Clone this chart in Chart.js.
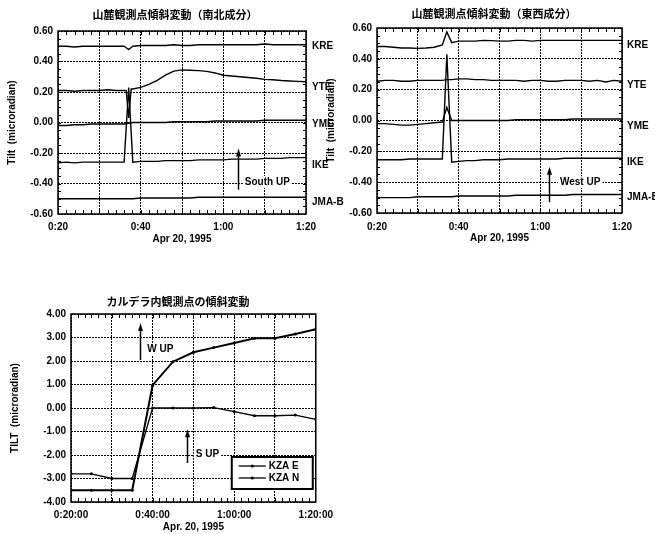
<!DOCTYPE html>
<html>
<head>
<meta charset="utf-8">
<script src="https://cdn.jsdelivr.net/npm/chart.js@4.4.1/dist/chart.umd.min.js"></script>
<style>
  body { margin: 0; background: #fff; width: 655px; height: 534px; position: relative; overflow: hidden; }
  canvas { position: absolute; }
  #ns { left: 0; top: 0; }
  #ew { left: 325px; top: 0; }
  #kza { left: 0; top: 285px; }
</style>
</head>
<body>
<canvas id="ns" width="350" height="250"></canvas>
<canvas id="ew" width="330" height="250"></canvas>
<canvas id="kza" width="340" height="249"></canvas>
<script>
// --- data (time in minutes after 0:00, tilt in microradian) ---
var stations = ['KRE', 'YTE', 'YME', 'IKE', 'JMA-B'];

// north-south component
var tNS = [20, 22, 24, 26, 28, 30, 32, 34, 36, 36.5, 37.1, 37.7, 38.1, 40, 42, 44, 46, 48, 50, 52, 54, 56, 58, 60, 62, 64, 66, 68, 70, 72, 74, 76, 78, 80];
var kreNS = [0.50, 0.50, 0.495, 0.50, 0.50, 0.50, 0.50, 0.50, 0.50, 0.49, 0.478, 0.492, 0.50, 0.505, 0.505, 0.505, 0.505, 0.51, 0.505, 0.505, 0.51, 0.51, 0.51, 0.51, 0.51, 0.51, 0.51, 0.51, 0.515, 0.51, 0.51, 0.51, 0.51, 0.51];
var yteNS = [0.21, 0.21, 0.205, 0.21, 0.21, 0.21, 0.215, 0.21, 0.21, 0.21, 0.03, 0.22, 0.22, 0.23, 0.25, 0.276, 0.31, 0.337, 0.345, 0.343, 0.34, 0.335, 0.325, 0.31, 0.305, 0.30, 0.295, 0.29, 0.283, 0.28, 0.275, 0.272, 0.27, 0.267];
var ymeNS = [-0.02, -0.02, -0.015, -0.015, -0.01, -0.01, -0.01, -0.01, -0.01, null, null, null, 0.0, 0.0, 0.0, 0.0, 0.0, 0.005, 0.005, 0.005, 0.005, 0.005, 0.01, 0.01, 0.01, 0.01, 0.01, 0.01, 0.015, 0.015, 0.015, 0.015, 0.015, 0.015];
var ikeNS = [-0.265, -0.26, -0.265, -0.26, -0.26, -0.26, -0.26, -0.26, -0.26, null, 0.23, null, -0.26, -0.255, -0.255, -0.255, -0.25, -0.25, -0.25, -0.25, -0.245, -0.245, -0.245, -0.245, -0.24, -0.24, -0.24, -0.24, -0.235, -0.235, -0.235, -0.23, -0.23, -0.23];
var jmaNS = [-0.50, -0.50, -0.50, -0.50, -0.50, -0.50, -0.50, -0.50, -0.50, null, null, null, -0.50, -0.495, -0.495, -0.495, -0.495, -0.495, -0.495, -0.495, -0.49, -0.49, -0.49, -0.49, -0.49, -0.49, -0.49, -0.49, -0.49, -0.49, -0.49, -0.49, -0.49, -0.49];
var labelNS = [0.50, 0.23, -0.01, -0.28, -0.52];

// east-west component
var tEW = [20, 22, 24, 26, 28, 30, 32, 34, 36, 37.1, 38.3, 40, 42, 44, 46, 48, 50, 52, 54, 56, 58, 60, 62, 64, 66, 68, 70, 72, 74, 76, 78, 80];
var kreEW = [0.48, 0.48, 0.475, 0.47, 0.47, 0.468, 0.47, 0.475, 0.49, 0.575, 0.505, 0.515, 0.515, 0.515, 0.52, 0.518, 0.515, 0.515, 0.52, 0.52, 0.515, 0.52, 0.52, 0.52, 0.52, 0.52, 0.52, 0.52, 0.52, 0.52, 0.52, 0.52];
var yteEW = [0.255, 0.26, 0.26, 0.255, 0.255, 0.26, 0.26, 0.26, 0.26, 0.265, 0.265, 0.27, 0.27, 0.265, 0.265, 0.26, 0.26, 0.26, 0.26, 0.255, 0.26, 0.26, 0.255, 0.255, 0.26, 0.26, 0.26, 0.255, 0.26, 0.25, 0.26, 0.255];
var ymeEW = [-0.02, -0.02, -0.025, -0.03, -0.03, -0.025, -0.02, -0.015, -0.01, 0.085, 0.0, 0.0, 0.0, 0.0, 0.0, 0.0, 0.0, 0.0, 0.005, 0.005, 0.005, 0.005, 0.005, 0.005, 0.005, 0.01, 0.01, 0.01, 0.01, 0.01, 0.01, 0.01];
var ikeEW = [-0.255, -0.255, -0.255, -0.255, -0.25, -0.25, -0.25, -0.25, -0.25, 0.43, -0.27, -0.265, -0.26, -0.26, -0.255, -0.255, -0.255, -0.25, -0.25, -0.25, -0.25, -0.25, -0.25, -0.25, -0.245, -0.245, -0.245, -0.245, -0.245, -0.245, -0.245, -0.245];
var jmaEW = [-0.50, -0.50, -0.50, -0.50, -0.50, -0.495, -0.495, -0.495, -0.495, null, -0.495, -0.49, -0.49, -0.49, -0.49, -0.49, -0.49, -0.49, -0.485, -0.485, -0.485, -0.485, -0.485, -0.485, -0.485, -0.48, -0.48, -0.48, -0.48, -0.48, -0.48, -0.48];
var labelEW = [0.485, 0.23, -0.04, -0.27, -0.50];

// caldera station KZA
var tKZA = [20, 25, 30, 35, 40, 45, 50, 55, 60, 65, 70, 75, 80];
var kzaE = [-3.5, -3.5, -3.5, -3.5, 0.97, 1.97, 2.37, 2.57, 2.77, 2.97, 2.97, 3.15, 3.35];
var kzaN = [-2.8, -2.8, -3.0, -3.0, 0.0, 0.0, 0.0, 0.02, -0.15, -0.33, -0.33, -0.30, -0.48];

// arrows with notes: arrow at x from y0 up to y1, note starting at (tx, ty)
var notesNS = [{ x: 63.5, y0: -0.44, y1: -0.17, text: 'South UP', tx: 65.2, ty: -0.39 }];
var notesEW = [{ x: 62.1, y0: -0.53, y1: -0.30, text: 'West UP', tx: 64.8, ty: -0.40 }];
var notesKZA = [
  { x: 36.8, y0: 2.04, y1: 3.62, text: 'W UP', tx: 38.7, ty: 2.5 },
  { x: 48.4, y0: -2.34, y1: -0.9, text: 'S UP', tx: 50.6, ty: -1.96 }
];

var FONT = '"Liberation Sans", Arial, sans-serif';
Chart.defaults.font.family = FONT;
Chart.defaults.font.size = 10;
Chart.defaults.font.weight = 'bold';
Chart.defaults.color = '#000';
Chart.defaults.animation = false;
Chart.defaults.responsive = false;
Chart.defaults.plugins.legend.display = false;
Chart.defaults.plugins.tooltip.enabled = false;

function hm(v) { return Math.floor(v / 60) + ':' + String(v % 60).padStart(2, '0'); }

function pts(t, vals) { return t.map(function (x, i) { return { x: x, y: vals[i] }; }); }

// frame, inward minor ticks, title, station labels, arrows, legend
var deco = {
  id: 'deco',
  afterDatasetsDraw: function (chart, args, o) {
    var ctx = chart.ctx, a = chart.chartArea, x = chart.scales.x, y = chart.scales.y;
    ctx.save();
    ctx.strokeStyle = '#000';
    ctx.fillStyle = '#000';
    ctx.lineWidth = 1;
    ctx.beginPath();
    for (var v = x.min + o.xMinor; v < x.max - 1e-6; v += o.xMinor) {
      var px = Math.round(x.getPixelForValue(v)) + 0.5;
      ctx.moveTo(px, a.top); ctx.lineTo(px, a.top + 4);
      ctx.moveTo(px, a.bottom); ctx.lineTo(px, a.bottom - 4);
    }
    if (o.yMinor) {
      for (var w = y.min + o.yMinor; w < y.max - 1e-6; w += o.yMinor) {
        var py = Math.round(y.getPixelForValue(w)) + 0.5;
        ctx.moveTo(a.left, py); ctx.lineTo(a.left + 3, py);
        ctx.moveTo(a.right, py); ctx.lineTo(a.right - 3, py);
      }
    }
    ctx.stroke();
    ctx.lineWidth = 1.5;
    ctx.strokeRect(a.left, a.top, a.right - a.left, a.bottom - a.top);

    // chart title
    ctx.font = 'bold 11px "Noto Sans CJK JP"';
    ctx.textAlign = 'center';
    ctx.textBaseline = 'middle';
    ctx.fillText(o.title, o.titleX, o.titleY);

    ctx.font = 'bold 10px ' + FONT;
    ctx.textAlign = 'left';
    if (o.labels) {
      o.labels.forEach(function (v, i) {
        ctx.fillText(stations[i], a.right + o.labelGap, y.getPixelForValue(v));
      });
    }

    (o.notes || []).forEach(function (n) {
      var ax = Math.round(x.getPixelForValue(n.x)) + 0.5;
      var ay0 = y.getPixelForValue(n.y0), ay1 = y.getPixelForValue(n.y1);
      ctx.lineWidth = 1.5;
      ctx.beginPath(); ctx.moveTo(ax, ay0); ctx.lineTo(ax, ay1 + 6); ctx.stroke();
      ctx.beginPath(); ctx.moveTo(ax, ay1); ctx.lineTo(ax - 2.5, ay1 + 8); ctx.lineTo(ax + 2.5, ay1 + 8); ctx.closePath(); ctx.fill();
      var tx = x.getPixelForValue(n.tx), ty = y.getPixelForValue(n.ty);
      var tw = ctx.measureText(n.text).width;
      ctx.fillStyle = '#fff';
      ctx.fillRect(tx - 2, ty - 6, tw + 4, 12);
      ctx.fillStyle = '#000';
      ctx.fillText(n.text, tx, ty);
    });

    if (o.legend) {
      var bx = a.right - 84, by = a.bottom - 45, bw = 81, bh = 32;
      ctx.fillStyle = '#fff';
      ctx.fillRect(bx, by, bw, bh);
      ctx.fillStyle = '#000';
      ctx.lineWidth = 2;
      ctx.strokeRect(bx, by, bw, bh);
      chart.data.datasets.forEach(function (ds, i) {
        var ly = by + 9 + i * 12;
        ctx.lineWidth = 1.3;
        ctx.beginPath(); ctx.moveTo(bx + 7, ly); ctx.lineTo(bx + 34, ly); ctx.stroke();
        ctx.beginPath(); ctx.arc(bx + 20.5, ly, 1.6, 0, Math.PI * 2); ctx.fill();
        ctx.fillText(ds.label, bx + 37, ly);
      });
    }
    ctx.restore();
  }
};

function axes(o) {
  var grid = { color: '#000', lineWidth: 1, drawTicks: false };
  var border = { display: false, dash: [2, 1] };
  return {
    x: {
      type: 'linear', min: 20, max: 80,
      afterFit: function (s) { s.height = o.xh; },
      grid: grid, border: border,
      ticks: { stepSize: 10, autoSkip: false, maxRotation: 0, padding: o.xpad,
        callback: function (v) { return (v - 20) % 20 === 0 ? o.fmt(v) : ''; } },
      title: { display: true, text: o.xTitle, padding: { top: 0, bottom: o.xtb } }
    },
    y: {
      min: o.ymin, max: o.ymax,
      afterFit: function (s) { s.width = o.yw; },
      grid: grid, border: border,
      ticks: { stepSize: o.ystep, padding: 5,
        callback: function (v) { return (Math.abs(v) < 1e-9 ? 0 : v).toFixed(2); } },
      title: { display: true, text: o.yTitle, padding: { top: o.ytp, bottom: 0 } }
    }
  };
}

function stationSets(t, series) {
  return series.map(function (vals, i) {
    return { label: stations[i], data: pts(t, vals), borderColor: '#000', borderWidth: 1.4,
      pointRadius: 0, tension: 0, spanGaps: true };
  });
}

new Chart(document.getElementById('ns'), {
  type: 'line',
  data: { datasets: stationSets(tNS, [kreNS, yteNS, ymeNS, ikeNS, jmaNS]) },
  options: {
    layout: { padding: { top: 31, right: 44, left: 0, bottom: 0 } },
    scales: axes({ xh: 36, xpad: 7, xtb: 5, fmt: hm, xTitle: 'Apr 20, 1995',
      ymin: -0.6, ymax: 0.6, ystep: 0.2, yw: 58, ytp: 6, yTitle: 'Tilt  (microradian)' }),
    plugins: { deco: { xMinor: 2, yMinor: 0.05, title: '山麓観測点傾斜変動（南北成分）', titleX: 175, titleY: 15,
      labels: labelNS, labelGap: 6, notes: notesNS } }
  },
  plugins: [deco]
});

new Chart(document.getElementById('ew'), {
  type: 'line',
  data: { datasets: stationSets(tEW, [kreEW, yteEW, ymeEW, ikeEW, jmaEW]) },
  options: {
    layout: { padding: { top: 28, right: 33, left: 0, bottom: 0 } },
    scales: axes({ xh: 37, xpad: 8, xtb: 6, fmt: hm, xTitle: 'Apr 20, 1995',
      ymin: -0.6, ymax: 0.6, ystep: 0.2, yw: 52, ytp: 0, yTitle: 'Tilt  (microradian)' }),
    plugins: { deco: { xMinor: 2, yMinor: 0.05, title: '山麓観測点傾斜変動（東西成分）', titleX: 169, titleY: 14,
      labels: labelEW, labelGap: 5, notes: notesEW } }
  },
  plugins: [deco]
});

new Chart(document.getElementById('kza'), {
  type: 'line',
  data: {
    datasets: [
      { label: 'KZA E', data: pts(tKZA, kzaE), borderColor: '#000', backgroundColor: '#000',
        borderWidth: 2, pointRadius: 1.5, pointBorderWidth: 0, tension: 0 },
      { label: 'KZA N', data: pts(tKZA, kzaN), borderColor: '#000', backgroundColor: '#000',
        borderWidth: 1.3, pointRadius: 1.5, pointBorderWidth: 0, tension: 0 }
    ]
  },
  options: {
    layout: { padding: { top: 29, right: 22, left: 0, bottom: 0 } },
    scales: axes({ xh: 32, xpad: 7, xtb: 1, fmt: function (v) { return hm(v) + ':00'; }, xTitle: 'Apr. 20, 1995',
      ymin: -4, ymax: 4, ystep: 1, yw: 71, ytp: 9, yTitle: 'TILT  (microradian)' }),
    plugins: { deco: { xMinor: 10 / 6, title: 'カルデラ内観測点の傾斜変動', titleX: 178, titleY: 17,
      notes: notesKZA, legend: true } }
  },
  plugins: [deco]
});
</script>
</body>
</html>
